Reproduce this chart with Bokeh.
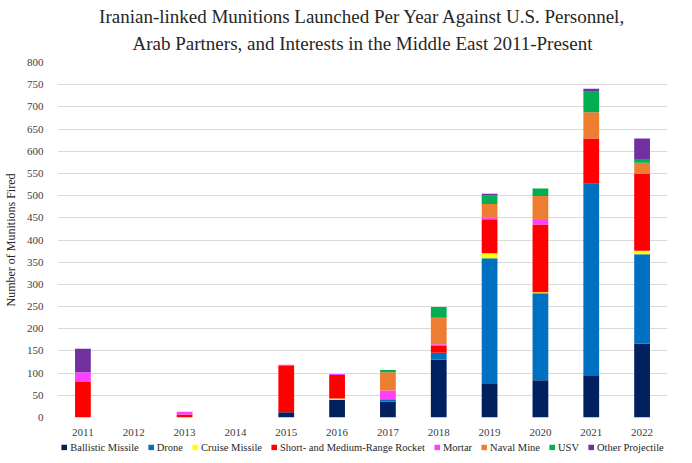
from bokeh.plotting import figure
from bokeh.layouts import column
from bokeh.models import ColumnDataSource, FactorRange, Range1d, FixedTicker, Legend, LegendItem, Title
from bokeh.embed import file_html
from bokeh.resources import INLINE

years = ["2011", "2012", "2013", "2014", "2015", "2016", "2017", "2018", "2019", "2020", "2021", "2022"]
ballistic = [0, 0, 0, 0, 12, 40, 36, 130, 77, 84, 95, 167]
drone = [0, 0, 0, 0, 0, 0, 5, 16, 282, 196, 432, 201]
cruise = [0, 0, 0, 0, 0, 3, 0, 0, 11, 2, 0, 8]
rocket = [80, 0, 7, 0, 104, 53, 0, 15, 77, 153, 102, 174]
mortar = [22, 0, 6, 0, 3, 2, 20, 4, 4, 10, 0, 0]
naval = [0, 0, 0, 0, 0, 0, 41, 60, 30, 54, 59, 24]
usv = [0, 0, 0, 0, 0, 0, 5, 24, 20, 17, 46, 7]
other = [53, 0, 0, 0, 0, 0, 0, 0, 3, 0, 7, 48]

series_keys = ["ballistic", "drone", "cruise", "rocket", "mortar", "naval", "usv", "other"]
series_labels = ["Ballistic Missile", "Drone", "Cruise Missile", "Short- and Medium-Range Rocket",
                 "Mortar", "Naval Mine", "USV", "Other Projectile"]
colors = ["#002060", "#0070C0", "#FFFF00", "#FF0000", "#FF40FF", "#ED7D31", "#00B050", "#7030A0"]
y_ticks = list(range(0, 801, 50))
title_lines = ["Iranian-linked Munitions Launched Per Year Against U.S. Personnel,",
               "Arab Partners, and Interests in the Middle East 2011-Present"]

source = ColumnDataSource(dict(year=years, ballistic=ballistic, drone=drone, cruise=cruise,
                               rocket=rocket, mortar=mortar, naval=naval, usv=usv, other=other))

SERIF = "Liberation Serif"

p = figure(width=676, height=438, x_range=FactorRange(*years, range_padding=0),
           y_range=Range1d(0, 800), output_backend="svg", toolbar_location=None,
           min_border_left=50, min_border_right=9, min_border_top=62, min_border_bottom=21)

p.vbar_stack(series_keys, x="year", width=0.31, color=colors, source=source, line_width=0)

p.title = Title(text=title_lines[0], align="center", text_font=SERIF, text_font_size="19px",
                text_font_style="normal", text_color="#262626", standoff=-8)
p.add_layout(Title(text=title_lines[1], align="center", text_font=SERIF, text_font_size="19px",
                   text_font_style="normal", text_color="#262626", standoff=17), "above")

p.outline_line_color = None
p.xgrid.grid_line_color = None
p.ygrid.grid_line_color = "#D9D9D9"
p.ygrid.grid_line_width = 1

p.yaxis.ticker = FixedTicker(ticks=y_ticks)
for ax in (p.xaxis[0], p.yaxis[0]):
    ax.axis_line_color = None
    ax.major_tick_line_color = None
    ax.minor_tick_line_color = None
    ax.major_label_text_font = SERIF
    ax.major_label_text_font_size = "11px"
    ax.major_label_text_color = "#404040"
p.xaxis.major_label_standoff = 5
p.yaxis.major_label_standoff = 8
p.yaxis.axis_label = "Number of Munitions Fired"
p.yaxis.axis_label_text_font = SERIF
p.yaxis.axis_label_text_font_size = "12px"
p.yaxis.axis_label_text_font_style = "normal"
p.yaxis.axis_label_text_color = "#262626"
p.yaxis.axis_label_standoff = 6

# legend strip: same stacked bars, but the y range is above the data so only the legend shows
pl = figure(width=676, height=17, output_backend="svg", toolbar_location=None,
            x_range=FactorRange(*years, range_padding=0), y_range=Range1d(900, 1000),
            min_border_left=0, min_border_right=0, min_border_top=0, min_border_bottom=0)
pl.axis.visible = False
pl.grid.visible = False
pl.outline_line_color = None
leg_renderers = pl.vbar_stack(series_keys, x="year", width=0.31, color=colors, source=source, line_width=0)
items = [LegendItem(label=lab, renderers=[r]) for lab, r in zip(series_labels, leg_renderers)]
legend = Legend(items=items, orientation="horizontal", location="center",
                label_text_font=SERIF, label_text_font_size="10.5px", label_text_color="#262626",
                glyph_width=7, glyph_height=7, label_standoff=3, spacing=8, padding=0,
                border_line_color=None, background_fill_alpha=0, margin=0)
pl.add_layout(legend, "center")

layout = column(p, pl, spacing=0)
open("out.html", "w").write(file_html(layout, INLINE))
